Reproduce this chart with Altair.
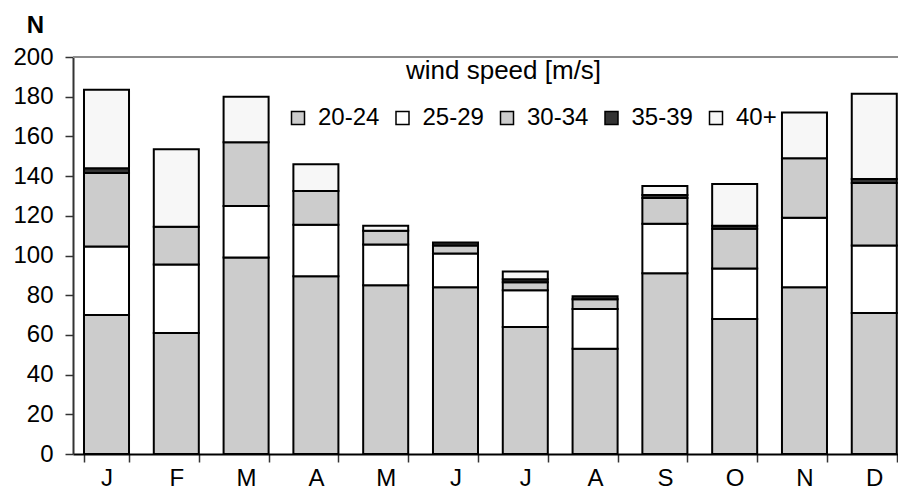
import altair as alt
import pandas as pd

# ---- data ----
months = ["J", "F", "M", "A", "M", "J", "J", "A", "S", "O", "N", "D"]
speed_classes = ["20-24", "25-29", "30-34", "35-39", "40+"]
n_20_24 = [70, 61, 99, 89.5, 85, 84, 64, 53, 91, 68, 84, 71]
n_25_29 = [34.5, 34.5, 26, 26, 20.5, 17, 18.5, 20, 25, 25.5, 35, 34]
n_30_34 = [37, 19, 32, 17, 7, 4, 4, 5, 13, 20, 30, 31.5]
n_35_39 = [2.5, 0, 0, 0, 0, 1.5, 1.5, 1.5, 1.5, 1.5, 0, 2]
n_40_plus = [39.5, 39, 23, 13.5, 2.5, 0, 4, 0, 4.5, 21, 23, 43]
class_colors = ["#cccccc", "#ffffff", "#cccccc", "#333333", "#f7f7f7"]
y_ticks = [0, 20, 40, 60, 80, 100, 120, 140, 160, 180, 200]
legend_title = "wind speed [m/s]"
y_title = "N"

FONT = "Liberation Sans"

all_series = [n_20_24, n_25_29, n_30_34, n_35_39, n_40_plus]
rows = []
for i, m in enumerate(months):
    for k, (name, vals) in enumerate(zip(speed_classes, all_series)):
        if vals[i] > 0:
            rows.append({"idx": i, "speed": name, "k": k, "n": vals[i]})
df = pd.DataFrame(rows)

label_expr = "[" + ",".join("'%s'" % m for m in months) + "][datum.value]"

y_scale = alt.Scale(domain=[0, 200], nice=False)
y_axis = alt.Axis(
    values=y_ticks,
    title=y_title,
    titleAngle=0,
    titleFontWeight="bold",
    titleFontSize=24,
    titleX=-38,
    titleY=-25,
    titleAlign="center",
    titleBaseline="alphabetic",
    titleColor="black",
    domainColor="#333333",
    domainWidth=2,
    tickColor="#333333",
    tickWidth=1.5,
    tickSize=8,
    labelFontSize=24,
    labelPadding=12,
    labelColor="black",
    labelOverlap=False,
    grid=False,
)

bars = alt.Chart(df).mark_bar(stroke="black", strokeWidth=2, opacity=1).encode(
    x=alt.X(
        "idx:O",
        title=None,
        scale=alt.Scale(paddingInner=0.355, paddingOuter=0.0875, align=0.9),
        axis=alt.Axis(
            labelExpr=label_expr,
            labelAngle=0,
            tickBand="extent",
            domainColor="black",
            domainWidth=2,
            tickColor="#333333",
            tickWidth=1.5,
            tickSize=8,
            labelFontSize=24,
            labelPadding=4,
            labelColor="black",
            labelOverlap=False,
            grid=False,
        ),
    ),
    y=alt.Y("n:Q", stack="zero", scale=y_scale, axis=y_axis),
    color=alt.Color(
        "speed:N",
        scale=alt.Scale(domain=speed_classes, range=class_colors),
        legend=alt.Legend(
            orient="none",
            legendX=213,
            legendY=49,
            direction="horizontal",
            title=None,
            symbolType="square",
            symbolSize=169,
            symbolStrokeColor="black",
            symbolStrokeWidth=1.5,
            symbolOpacity=1,
            labelFontSize=24,
            labelFont=FONT,
            labelColor="black",
            labelOffset=8,
            columnPadding=10.5,
            padding=0,
        ),
    ),
    order=alt.Order("k:Q", sort="ascending"),
)

top_line = alt.Chart(alt.Data(values=[{"n": y_ticks[-1]}])).mark_rule(
    color="#8c8c8c", strokeWidth=2
).encode(y=alt.Y("n:Q", scale=y_scale, axis=y_axis))

title_text = alt.Chart(alt.Data(values=[{"t": legend_title}])).mark_text(
    align="left", baseline="alphabetic", fontSize=26, font=FONT, color="black"
).encode(x=alt.value(333), y=alt.value(22), text="t:N")

chart = (
    alt.layer(bars, top_line, title_text)
    .properties(
        width=825,
        height=397,
        autosize=alt.AutoSizeParams(type="none"),
        padding={"left": 65, "top": 49, "right": 0, "bottom": 37},
    )
    .configure_view(stroke=None)
    .configure_axis(labelFont=FONT, titleFont=FONT)
    .configure_legend(labelFont=FONT)
)

chart.save("out.html", embed_options={"renderer": "svg", "actions": False})
